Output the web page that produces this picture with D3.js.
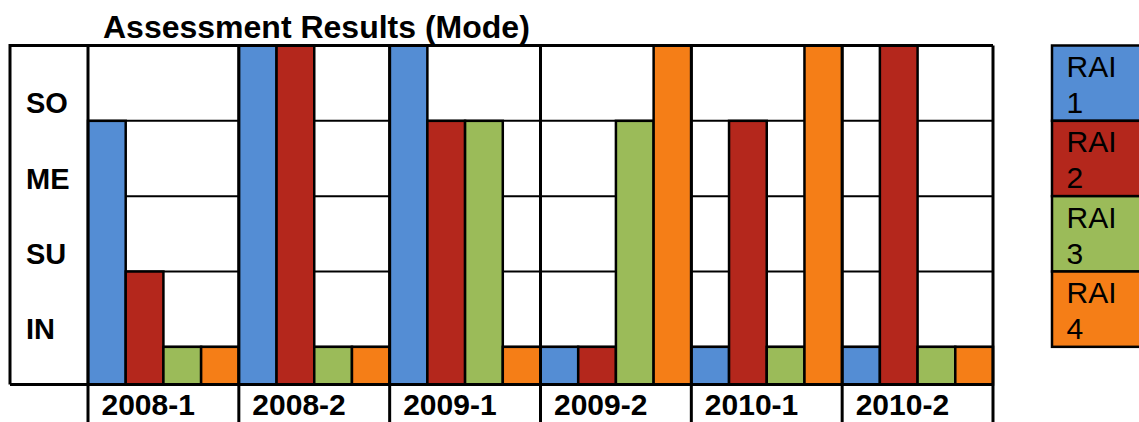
<!DOCTYPE html>
<html>
<head>
<meta charset="utf-8">
<script src="https://cdn.jsdelivr.net/npm/d3@7"></script>
<style>
  body { margin: 0; background: #fff; }
  svg { display: block; font-family: "Liberation Sans", Arial, sans-serif; }
</style>
</head>
<body>
<div id="chart"></div>
<script>
// data
const categories = ["2008-1", "2008-2", "2009-1", "2009-2", "2010-1", "2010-2"];
const series = ["RAI 1", "RAI 2", "RAI 3", "RAI 4"];
const rai1 = [4, 5, 5, 1, 1, 1];
const rai2 = [2, 5, 4, 1, 4, 5];
const rai3 = [1, 1, 4, 4, 1, 1];
const rai4 = [1, 1, 1, 5, 5, 1];
const levelLabels = ["SO", "ME", "SU", "IN"];
const levelValues = [4, 3, 2, 1];
const colors = ["#548dd4", "#b4271c", "#9bbb59", "#f57e17"];

const values = [rai1, rai2, rai3, rai4];
const W = 1139, H = 422;

const svg = d3.select("#chart").append("svg")
    .attr("width", W).attr("height", H);

// "top" clashes with window.top, so plot edges get their own names
const plotLeft = 10, labelCol = 88, plotRight = 993, plotTop = 45.5, plotBottom = 384.5;

const x = d3.scaleBand().domain(categories).range([labelCol, plotRight]).padding(0);
const xs = d3.scaleBand().domain(series).range([0, x.bandwidth()]).padding(0);
const y = d3.scaleLinear().domain([0.5, 5]).range([plotBottom, plotTop]);
const color = d3.scaleOrdinal().domain(series).range(colors);

// title
svg.append("text")
    .attr("x", 103).attr("y", 38)
    .attr("font-size", 32).attr("font-weight", "bold")
    .text("Assessment Results (Mode)");

// horizontal grid lines
svg.append("g")
    .selectAll("line")
    .data(levelValues)
    .join("line")
    .attr("x1", labelCol).attr("x2", plotRight)
    .attr("y1", d => y(d)).attr("y2", d => y(d))
    .attr("stroke", "#000").attr("stroke-width", 2);

// bars
const rows = categories.map((c, i) => series.map((s, j) => ({ cat: c, s: s, v: values[j][i] })));
svg.append("g")
    .selectAll("g")
    .data(rows)
    .join("g")
    .attr("transform", d => `translate(${x(d[0].cat)},0)`)
    .selectAll("rect")
    .data(d => d)
    .join("rect")
    .attr("x", d => xs(d.s))
    .attr("y", d => y(d.v))
    .attr("width", xs.bandwidth())
    .attr("height", d => y(0.5) - y(d.v))
    .attr("fill", d => color(d.s))
    .attr("stroke", "#000").attr("stroke-width", 2.5);

// level labels
svg.append("g")
    .selectAll("text")
    .data(levelValues)
    .join("text")
    .attr("x", 26)
    .attr("y", d => y(d) - 7.5)
    .attr("font-size", 29).attr("font-weight", "bold")
    .text((d, i) => levelLabels[i]);

// category dividers and labels
const dividers = [labelCol].concat(categories.map(c => x(c) + x.bandwidth()));
svg.append("g")
    .selectAll("line")
    .data(dividers)
    .join("line")
    .attr("x1", d => d).attr("x2", d => d)
    .attr("y1", plotTop).attr("y2", H)
    .attr("stroke", "#000").attr("stroke-width", 3);

svg.append("g")
    .selectAll("text")
    .data(categories)
    .join("text")
    .attr("x", d => x(d) + 13.5)
    .attr("y", 415)
    .attr("font-size", 30).attr("font-weight", "bold")
    .text(d => d);

// frame
svg.append("path")
    .attr("d", `M${plotLeft},${plotBottom}V${plotTop}H${plotRight}M${plotLeft},${plotBottom}H${plotRight}`)
    .attr("fill", "none")
    .attr("stroke", "#000").attr("stroke-width", 3);

// legend, one cell per grid row
const legend = svg.append("g")
    .selectAll("g")
    .data(series)
    .join("g")
    .attr("transform", (d, i) => `translate(1052,${y(5 - i)})`);

legend.append("rect")
    .attr("width", 120)
    .attr("height", (d, i) => y(4 - i) - y(5 - i))
    .attr("fill", d => color(d))
    .attr("stroke", "#000").attr("stroke-width", 2.5);

legend.append("text")
    .attr("x", 14.5).attr("y", 31.5)
    .attr("font-size", 30)
    .text(d => d.split(" ")[0]);

legend.append("text")
    .attr("x", 14.5).attr("y", 67.5)
    .attr("font-size", 30)
    .text(d => d.split(" ")[1]);
</script>
</body>
</html>
